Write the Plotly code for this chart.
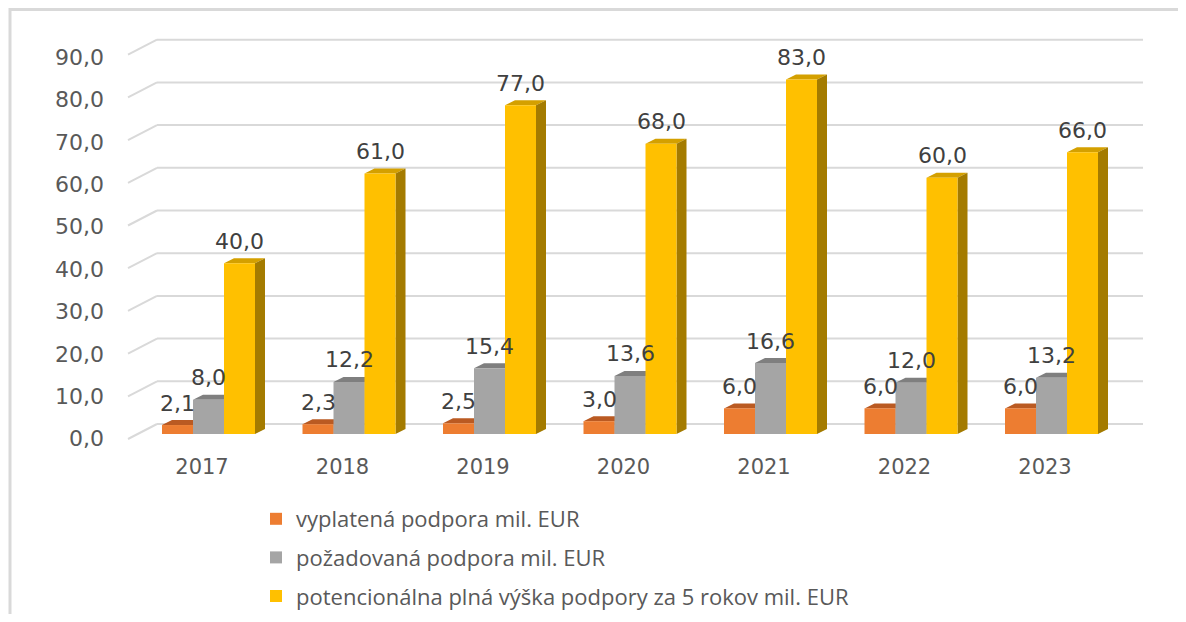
import plotly.graph_objects as go

years = ["2017", "2018", "2019", "2020", "2021", "2022", "2023"]
vyplatena = [2.1, 2.3, 2.5, 3.0, 6.0, 6.0, 6.0]
pozadovana = [8.0, 12.2, 15.4, 13.6, 16.6, 12.0, 13.2]
potencialna = [40.0, 61.0, 77.0, 68.0, 83.0, 60.0, 66.0]
series_names = [
    "vyplatená podpora mil. EUR",
    "požadovaná podpora mil. EUR",
    "potencionálna plná výška podpory za 5 rokov mil. EUR",
]
y_ticks = [0, 10, 20, 30, 40, 50, 60, 70, 80, 90]

front_colors = ["#ED7D31", "#A5A5A5", "#FFC000"]
top_colors = ["#BA5A22", "#7F7F7F", "#D4A000"]
side_colors = ["#A34A15", "#6F6F6F", "#A47B00"]

W, H = 1170, 606
BODY = 8  # page body margin (screen px = figure px + BODY)

# geometry targets in screen pixels
PX_PER_UNIT_Y = 4.27
Y0_PX = 434.0          # front base of bars
GROUP0_PX = 208.5
PX_PER_CAT = 140.5
LABEL_Y0_PX, LABEL_PX_PER_UNIT = 438.5, 4.235   # axis label plane
LABEL_X0_PX = 202.0
XLABEL_AXIS_PX = 452

# plot area in figure pixels
plot_l, plot_r = 96, 1150
plot_t, plot_b = 4, 600

def px2x(spx):
    return (spx - GROUP0_PX) / PX_PER_CAT

def px2y(spy):
    return (Y0_PX - spy) / PX_PER_UNIT_Y

def pyfrac(spy):
    return (plot_b - (spy - BODY)) / (plot_b - plot_t)

def pxfrac(spx):
    return (spx - BODY - plot_l) / (plot_r - plot_l)

x_range = [px2x(plot_l + BODY), px2x(plot_r + BODY)]
y_range = [px2y(plot_b + BODY), px2y(plot_t + BODY)]
x2_range = [(plot_l + BODY - LABEL_X0_PX) / PX_PER_CAT, (plot_r + BODY - LABEL_X0_PX) / PX_PER_CAT]
y2_range = [(LABEL_Y0_PX - plot_b - BODY) / LABEL_PX_PER_UNIT, (LABEL_Y0_PX - plot_t - BODY) / LABEL_PX_PER_UNIT]

bar_w = 31 / PX_PER_CAT
dx = 10 / PX_PER_CAT
dy = 5 / PX_PER_UNIT_Y
grid_dy = 10 / PX_PER_UNIT_Y
diag_front_dy = -5 / PX_PER_UNIT_Y

xs = list(range(len(years)))
all_series = [vyplatena, pozadovana, potencialna]

fig = go.Figure()
shapes = []

# frame
shapes.append(dict(type="rect", xref="paper", yref="paper",
                   x0=pxfrac(10), x1=pxfrac(1300), y0=pyfrac(700), y1=pyfrac(9.5),
                   line=dict(color="#D9D9D9", width=3), fillcolor="rgba(0,0,0,0)", layer="below"))

# back gridlines + diagonal floor lines
gx0, gx1, dxl = px2x(157), px2x(1143), px2x(128)
for t in y_ticks:
    shapes.append(dict(type="line", xref="x", yref="y", x0=gx0, x1=gx1, y0=t + grid_dy, y1=t + grid_dy,
                       line=dict(color="#D9D9D9", width=2), layer="below"))
    shapes.append(dict(type="line", xref="x", yref="y", x0=dxl, x1=gx0, y0=t + diag_front_dy, y1=t + grid_dy,
                       line=dict(color="#D9D9D9", width=2), layer="below"))

annotations = []
for k, (vals, name) in enumerate(zip(all_series, series_names)):
    off = -1.5 * bar_w + k * bar_w
    fig.add_trace(go.Bar(
        x=xs, y=vals, name=name, width=bar_w, offset=off,
        marker=dict(color=front_colors[k], line=dict(width=0)),
        legendgroup=str(k),
        hoverinfo="y",
    ))
    for xi, v in zip(xs, vals):
        x0 = xi + off
        x1 = x0 + bar_w
        # top face
        shapes.append(dict(type="path", xref="x", yref="y",
                           path=f"M {x0},{v} L {x1},{v} L {x1+dx},{v+dy} L {x0+dx},{v+dy} Z",
                           fillcolor=top_colors[k], line=dict(width=0), layer="below"))
        # side face
        shapes.append(dict(type="path", xref="x", yref="y",
                           path=f"M {x1},0 L {x1},{v} L {x1+dx},{v+dy} L {x1+dx},{dy} Z",
                           fillcolor=side_colors[k], line=dict(width=0), layer="below"))
        annotations.append(dict(x=x0 + bar_w / 2, y=v, xref="x", yref="y",
                                text=f"{v:.1f}".replace(".", ","), showarrow=False,
                                yshift=22, font=dict(family="DejaVu Sans", size=22, color="#404040")))

# invisible trace that carries the label axes (front plane of the floor)
fig.add_trace(go.Scatter(x=[0], y=[0], xaxis="x2", yaxis="y2", mode="markers",
                         marker=dict(opacity=0), showlegend=False, hoverinfo="skip"))

fig.update_layout(
    template="none",
    width=W, height=H,
    margin=dict(l=plot_l, r=W - plot_r, t=plot_t, b=H - plot_b, pad=0, autoexpand=False),
    paper_bgcolor="white", plot_bgcolor="white",
    barmode="overlay",
    showlegend=True,
    legend=dict(x=pxfrac(256), y=pyfrac(498),
                xanchor="left", yanchor="top", orientation="v", tracegroupgap=7,
                font=dict(family="Open Sans", size=22, color="#595959"),
                bgcolor="rgba(0,0,0,0)", borderwidth=0),
    shapes=shapes,
    annotations=annotations,
    xaxis=dict(range=x_range, showticklabels=False, showgrid=False, zeroline=False,
               showline=False, ticks="", automargin=False),
    yaxis=dict(range=y_range, showticklabels=False, showgrid=False, zeroline=False,
               showline=False, ticks="", automargin=False),
    xaxis2=dict(range=x2_range, overlaying="x", anchor="free", position=pyfrac(XLABEL_AXIS_PX),
                side="bottom", tickmode="array",
                tickvals=xs, ticktext=years, showgrid=False, zeroline=False,
                showline=False, ticks="", automargin=False,
                tickfont=dict(family="DejaVu Sans", size=21, color="#595959")),
    yaxis2=dict(range=y2_range, overlaying="y", anchor="free", position=0, side="left",
                tickmode="array",
                tickvals=y_ticks, ticktext=[f"{t:.1f}".replace(".", ",") for t in y_ticks],
                showgrid=False, zeroline=False, showline=False, ticks="", automargin=False,
                tickfont=dict(family="DejaVu Sans", size=22, color="#595959")),
)

fig.write_html("out.html")
